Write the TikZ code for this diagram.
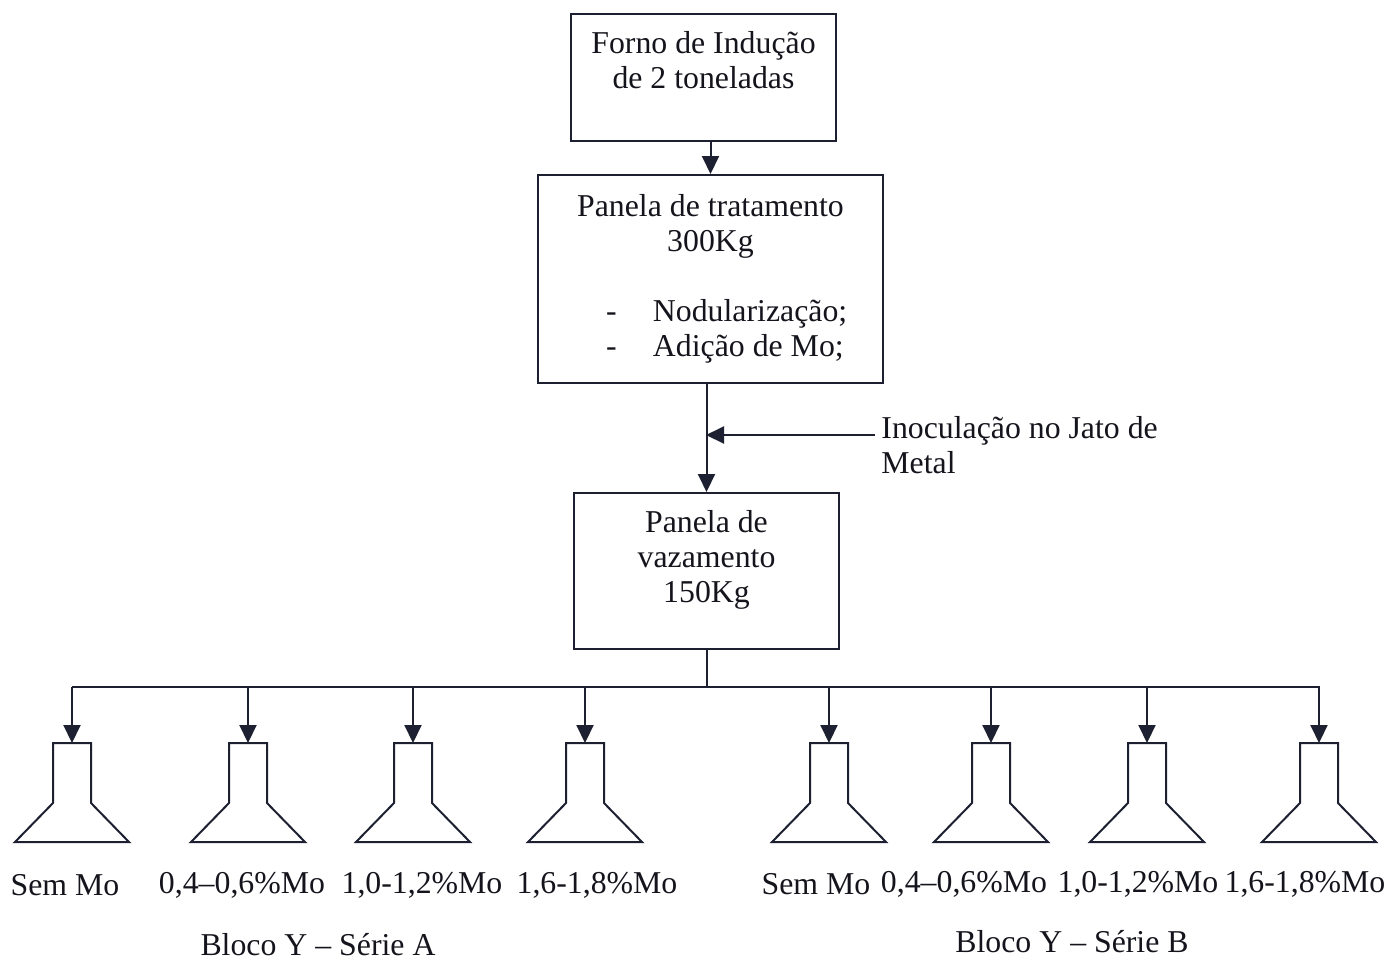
\documentclass[tikz,border=0pt]{standalone}
\usepackage{fontspec}
\setmainfont{Liberation Serif}
\usetikzlibrary{arrows.meta}
\definecolor{lc}{RGB}{28,32,48}
\definecolor{tc}{RGB}{20,20,28}
\newcommand{\diagfont}{\fontsize{15.9}{17.5}\selectfont}
\newcommand{\bul}[1]{\makebox[172.5pt][l]{\hspace*{34pt}\makebox[23.5pt][l]{-}#1}}
\begin{document}
\begin{tikzpicture}[x=0.5pt,y=-0.5pt,
  box/.style={draw=lc, line width=1pt, inner sep=0pt, align=center, font=\diagfont, text=tc},
  lbl/.style={inner sep=0pt, font=\diagfont, text=tc},
  conn/.style={draw=lc, line width=1pt},
  arr/.style={conn, -{Triangle[length=9pt,width=8.5pt]}},
  flask/.style={draw=lc, line width=1pt, line join=miter}]
\useasboundingbox (0,0) rectangle (1392,960);

\node[box, minimum width=132.5pt, minimum height=63.5pt] (b1) at (703.5,77.5)
  {Forno de Indução\\de 2 toneladas\\\mbox{}};
\node[box, minimum width=172.5pt, minimum height=104pt] (b2) at (710.5,279)
  {Panela de tratamento\\300Kg\\\mbox{}\\\bul{Nodularização;}\\\bul{Adição de Mo;}};
\node[box, minimum width=132.5pt, minimum height=78pt] (b3) at (706.5,571)
  {Panela de\\vazamento\\150Kg\\[-3pt]\mbox{}};

\draw[arr] (b2.north |- b1.south) -- (b2.north);
\draw[arr] (b3.north |- b2.south) -- (b3.north);

\node[lbl, align=left, anchor=west] (ino) at (881,445) {Inoculação no Jato de\\Metal};
\coordinate (jet) at (706,435);
\draw[arr] ([xshift=-3pt]ino.west |- jet) -- (jet);

\coordinate (busL) at (72,687);
\coordinate (busR) at (1320,687);
\draw[conn] (b3.south) -- (b3.south |- busL);
\draw[conn] (busL) -- (busR);

\foreach \x/\n in {72/fa1, 248/fa2, 413/fa3, 585/fa4, 829/fb1, 991/fb2, 1147/fb3, 1319/fb4}{
  \coordinate (\n) at (\x,743);
  \draw[flask] (\x-19,743) -- (\x+19,743) -- (\x+19,803) -- (\x+57,842) -- (\x-57,842) -- (\x-19,803) -- cycle;
  \draw[arr] (\n |- busL) -- (\n);
}

\node[lbl] (la1) at (65,885) {Sem Mo};
\node[lbl] (la2) at (242,885) {0,4–0,6\%Mo};
\node[lbl] (la3) at (422,885) {1,0-1,2\%Mo};
\node[lbl] (la4) at (597,885) {1,6-1,8\%Mo};
\node[lbl] (lb1) at (816,884) {Sem Mo};
\node[lbl] (lb2) at (964,884) {0,4–0,6\%Mo};
\node[lbl] (lb3) at (1138,884) {1,0-1,2\%Mo};
\node[lbl] (lb4) at (1305,884) {1,6-1,8\%Mo};
\node[lbl] (sa) at (318,945) {Bloco Y – Série A};
\node[lbl] (sb) at (1072,942) {Bloco Y – Série B};
\end{tikzpicture}
\end{document}
